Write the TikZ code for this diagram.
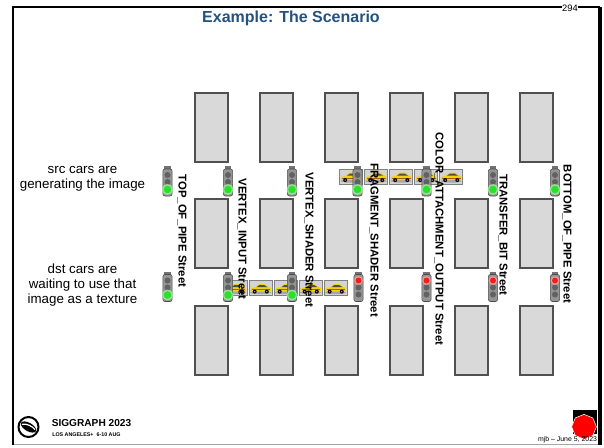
\documentclass[tikz,border=0pt]{standalone}
\usepackage{fontspec}
\setmainfont{Liberation Sans}
\definecolor{titleblue}{RGB}{36,82,128}
\definecolor{blockfill}{RGB}{217,217,217}
\definecolor{blockedge}{RGB}{80,80,80}
\definecolor{carbody}{RGB}{240,210,20}
\definecolor{lampgreen}{RGB}{40,225,40}
\definecolor{lampred}{RGB}{240,30,30}
\begin{document}
\begin{tikzpicture}[x=0.75pt,y=-0.75pt,
  block/.style={draw=blockedge, fill=blockfill, line width=0.8pt},
  streetlabel/.style={rotate=-90, inner sep=0pt, font=\bfseries\fontsize{8.5}{10}\selectfont},
  sidetext/.style={align=center, inner sep=0pt, font=\fontsize{10}{11.25}\selectfont},
  housing/.pic={
    \fill[black!55] (-3.2,-15.5) rectangle (3.2,-11);
    \draw[draw=black!70, fill=black!42, rounded corners=1.5pt] (-4.6,-12.5) rectangle (4.6,14.5);
    \foreach \yy in {-6.5,0.5,7.5} \fill[black!62] (0,\yy) circle (3);
  },
  golight/.pic={
    \pic {housing};
    \fill[lampgreen!45!white, opacity=0.8] (0,8) circle (5.5);
    \fill[lampgreen] (0,8) circle (3.8);
  },
  stoplight/.pic={
    \pic {housing};
    \fill[lampred!45!white] (0,-6.5) circle (4.3);
    \fill[lampred] (0,-6.5) circle (3);
  },
  car/.pic={
    \draw[black!50, fill=black!17, line width=0.5pt] (-11.5,-7.5) rectangle (11.5,7.5);
    \fill[black!35] (0,4.6) ellipse (10.5 and 1.6);
    \fill[carbody] (-10,3.5) .. controls (-10.5,0.5) .. (-6,-0.5) -- (-1.5,-3.8)
      -- (4,-3.8) -- (8.5,-1) .. controls (10.5,0) .. (10.3,3.5) -- cycle;
    \fill[black!70] (-1,-3) -- (3.5,-3) -- (6.8,-1) -- (-3.8,-1) -- cycle;
    \draw[orange!70!black, line width=0.3pt] (-9,1.5) -- (9.5,1.5);
    \fill[black] (-5.8,3.6) circle (2);
    \fill[black] (6.3,3.6) circle (2);
    \fill[black!40] (-5.8,3.6) circle (0.8);
    \fill[black!40] (6.3,3.6) circle (0.8);
  }]
\useasboundingbox (0,0) rectangle (604,447);

% slide frame
\draw[black!35, line width=0.6pt] (13,444) -- (600,444);
\draw[black, line width=2pt] (13,445) -- (13,7) -- (600,7);
\draw[black, line width=2.6pt] (600,7) -- (600,445);

% title and page number
\node[font=\bfseries\fontsize{12}{14}\selectfont, text=titleblue] (title) at (291,18) {Example: The Scenario};
\node[font=\fontsize{7}{8}\selectfont, fill=white, inner sep=0.3pt] (page) at (570,8.5) {294};

% city blocks
\foreach \c in {0,...,5}
  \foreach \y in {93,199,306}
    \draw[block] (195+65*\c,\y) rectangle ++(33,69);

% side explanations
\node[sidetext] (src) at (82.5,178.5) {src cars are\\generating the image};
\node[sidetext] (dst) at (82.5,285) {dst cars are\\waiting to use that\\image as a texture};

% cars on the upper road
\foreach \x [count=\i] in {351,376,401,426,451}
  \pic (src\i) at (\x,176.5) {car};
% cars on the lower road
\foreach \x [count=\i] in {235.5,260.5,285.5,310.5,335.5}
  \pic (dst\i) at (\x,288) {car};

% street names
\node[streetlabel] (top)  at (182,231) {TOP\_OF\_PIPE Street};
\node[streetlabel] (vin)  at (242,239) {VERTEX\_INPUT Street};
\node[streetlabel] (vsh)  at (309,240) {VERTEX\_SHADER Street};
\node[streetlabel] (fsh)  at (374,240) {FRAGMENT\_SHADER Street};
\node[streetlabel] (cao)  at (439,239) {COLOR\_ATTACHMENT\_OUTPUT Street};
\node[streetlabel] (tbit) at (503,235) {TRANSFER\_BIT Street};
\node[streetlabel] (bot)  at (567,234) {BOTTOM\_OF\_PIPE Street};

% signals for the src cars: all green
\foreach \x [count=\i] in {167.5,228,292,357.5,426.5,493,555}
  \pic (up\i) at (\x,181.5) {golight};
% signals for the dst cars: green up to the vertex shader, red after
\foreach \x [count=\i] in {167.5,228,292}
  \pic (lo\i) at (\x,287) {golight};
\foreach \x [count=\i] in {358.5,426.5,493,555}
  \pic (lr\i) at (\x,287) {stoplight};

% conference logo
\draw[black, line width=1.5pt] (28.5,427) circle (10);
\fill[black, rotate around={-30:(28.5,427)}] (28.5,427) ellipse (8.5 and 4.2);
\draw[white, line width=0.9pt, rotate around={-30:(28.5,427)}] (21.5,428) .. controls (25,424.5) and (32,424.5) .. (35.5,426);
\node[anchor=west, inner sep=0pt, font=\bfseries\fontsize{7.6}{9}\selectfont] (sig) at (51.5,423.5) {SIGGRAPH 2023};
\node[anchor=west, inner sep=0pt, font=\bfseries\fontsize{4}{5}\selectfont] (la) at (52,435) {LOS ANGELES+\ \ 6-10 AUG};

% stop sign and footer
\fill[black] (573,410) rectangle (597,434);
\draw[white, line width=0.4pt, fill=red] (585,422) ++(22.5:12.4) -- ++(112.5:9.5) -- ++(157.5:9.5) -- ++(202.5:9.5)
  -- ++(247.5:9.5) -- ++(292.5:9.5) -- ++(337.5:9.5) -- ++(22.5:9.5) -- cycle;
\node[font=\fontsize{5.2}{6}\selectfont, inner sep=0pt] (date) at (567.5,439.5) {mjb -- June 5, 2023};
\end{tikzpicture}
\end{document}
